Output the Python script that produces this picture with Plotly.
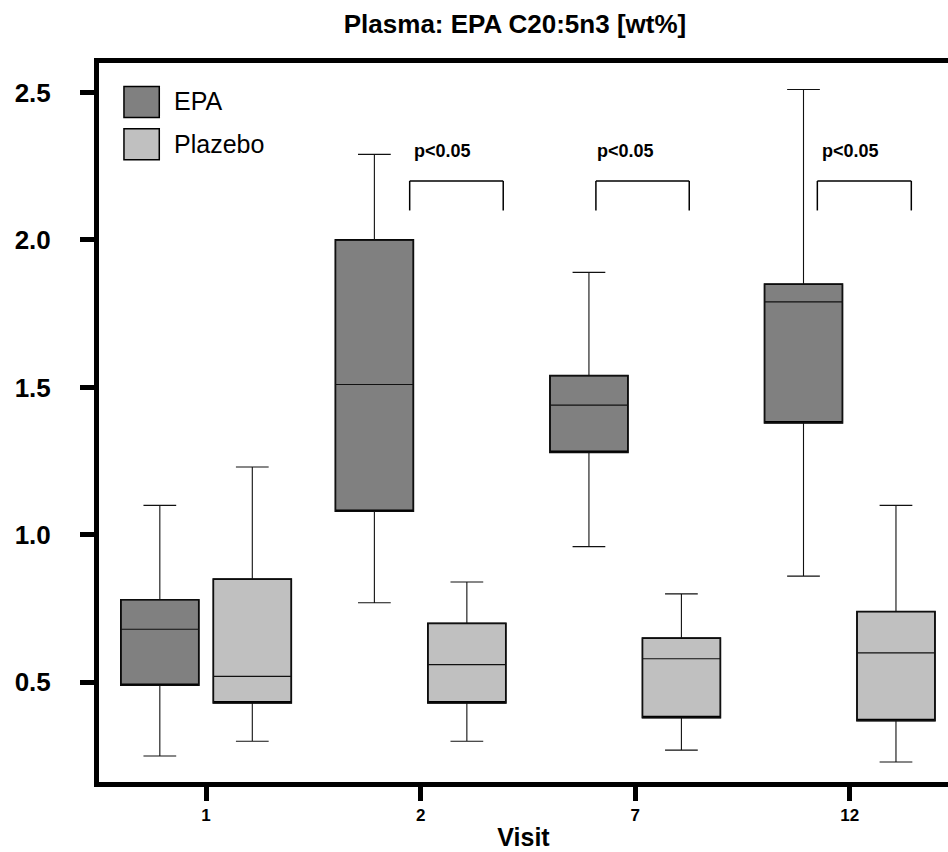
import plotly.graph_objects as go

# ---- data ----
visits = ["1", "2", "7", "12"]

epa_low = [0.25, 0.77, 0.96, 0.86]
epa_q1 = [0.49, 1.08, 1.28, 1.38]
epa_med = [0.68, 1.51, 1.44, 1.79]
epa_q3 = [0.78, 2.00, 1.54, 1.85]
epa_high = [1.10, 2.29, 1.89, 2.51]

plz_low = [0.30, 0.30, 0.27, 0.23]
plz_q1 = [0.43, 0.43, 0.38, 0.37]
plz_med = [0.52, 0.56, 0.58, 0.60]
plz_q3 = [0.85, 0.70, 0.65, 0.74]
plz_high = [1.23, 0.84, 0.80, 1.10]

group_names = ["EPA", "Plazebo"]
group_colors = ["#808080", "#c0c0c0"]

y_ticks = [0.5, 1.0, 1.5, 2.0, 2.5]

sig_label = "p<0.05"
sig_left = [0.949, 1.817, 2.849]
sig_right = [1.385, 2.252, 3.287]
sig_text_x = [1.102, 1.955, 3.005]
sig_top = 2.20
sig_end = 2.10
sig_text_y = 2.30

FONT = "Liberation Sans, Arial, sans-serif"

fig = go.Figure()

groups = [
    (group_names[0], group_colors[0], epa_low, epa_q1, epa_med, epa_q3, epa_high),
    (group_names[1], group_colors[1], plz_low, plz_q1, plz_med, plz_q3, plz_high),
]

for name, color, lo, q1, med, q3, hi in groups:
    # filled box with thicker outline
    fig.add_trace(go.Box(
        x=visits, q1=q1, median=q1, q3=q3, lowerfence=q1, upperfence=q3,
        name=name, offsetgroup=name, fillcolor=color,
        line=dict(color="black", width=1.7), whiskerwidth=0,
        boxpoints=False, showlegend=False, hoverinfo="skip",
    ))
    # thin median, whiskers and caps
    fig.add_trace(go.Box(
        x=visits, q1=q1, median=med, q3=q3, lowerfence=lo, upperfence=hi,
        name=name, offsetgroup=name, fillcolor="rgba(0,0,0,0)",
        line=dict(color="#111111", width=1.1), whiskerwidth=0.42,
        boxpoints=False, showlegend=False,
    ))

shapes = []
annotations = []

# significance brackets
for xl, xr, xt in zip(sig_left, sig_right, sig_text_x):
    for (a0, b0, a1, b1) in [(xl, sig_end, xl, sig_top), (xl, sig_top, xr, sig_top), (xr, sig_top, xr, sig_end)]:
        shapes.append(dict(type="line", xref="x", yref="y", x0=a0, y0=b0, x1=a1, y1=b1,
                           line=dict(color="black", width=1.5)))
    annotations.append(dict(x=xt, y=sig_text_y, xref="x", yref="y", text=sig_label,
                            showarrow=False, xanchor="center", yanchor="middle",
                            font=dict(family=FONT, size=18, color="black", weight="bold")))

# legend (drawn manually to match the large swatches)
legend_y = [(0.9242, 0.9673, 0.9474), (0.8654, 0.9085, 0.8876)]
for name, color, (y0, y1, yt) in zip(group_names, group_colors, legend_y):
    shapes.append(dict(type="rect", xref="paper", yref="paper", x0=0.0294, x1=0.0710,
                       y0=y0, y1=y1, fillcolor=color, line=dict(color="black", width=1.5)))
    annotations.append(dict(x=0.0856, y=yt, xref="paper", yref="paper", text=name,
                            showarrow=False, xanchor="left", yanchor="middle",
                            font=dict(family=FONT, size=25, color="black")))

fig.update_layout(
    width=948, height=852,
    margin=dict(l=99, r=0, t=63, b=70),
    paper_bgcolor="white", plot_bgcolor="white",
    boxmode="group", boxgap=0.138, boxgroupgap=0.157,
    showlegend=False,
    title=dict(text="Plasma: EPA C20:5n3 [wt%]", x=515 / 948, xanchor="center",
               y=1 - 24 / 852, yanchor="middle", yref="container",
               font=dict(family=FONT, size=26, color="black", weight="bold")),
    shapes=shapes, annotations=annotations,
    font=dict(family=FONT, color="black"),
)

fig.update_xaxes(
    type="category", categoryorder="array", categoryarray=visits,
    range=[-0.499, 3.458],
    showline=True, linewidth=5, linecolor="black", mirror=True,
    ticks="outside", ticklen=14, tickwidth=5, tickcolor="black",
    tickfont=dict(family=FONT, size=17, color="black", weight="bold"),
    showgrid=False, zeroline=False,
    title=dict(text="Visit", standoff=6,
               font=dict(family=FONT, size=25, color="black", weight="bold")),
)

fig.update_yaxes(
    range=[0.162, 2.600],
    tickvals=y_ticks, ticktext=[f"{v:.1f}" for v in y_ticks],
    showline=True, linewidth=5, linecolor="black", mirror=False,
    ticks="outside", ticklen=14, tickwidth=5, tickcolor="black",
    ticklabelstandoff=24,
    tickfont=dict(family=FONT, size=26, color="black", weight="bold"),
    showgrid=False, zeroline=False,
)

fig.write_html("out.html")
